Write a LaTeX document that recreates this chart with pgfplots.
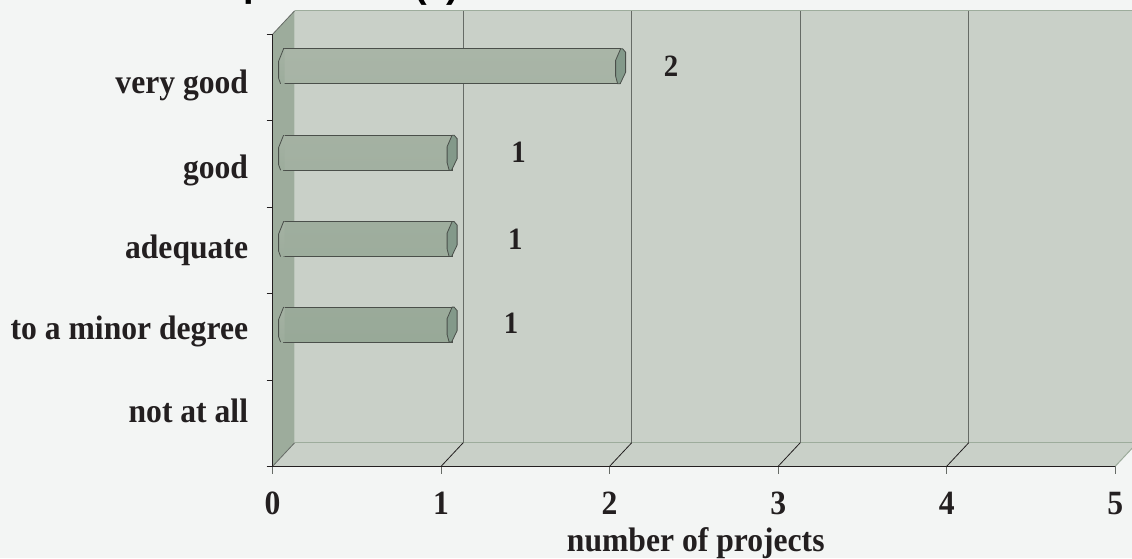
\documentclass[border=0pt]{standalone}
\usepackage{pgfplots}
\usepackage{fontspec}
\pgfplotsset{compat=1.18}
\setmainfont[FakeStretch=0.93]{Liberation Serif}
\setsansfont{Liberation Sans}
\definecolor{bgc}{HTML}{F3F5F4}
\definecolor{wallc}{HTML}{C9D0C8}
\definecolor{sidec}{HTML}{9DAC9C}
\definecolor{txtc}{HTML}{231F20}
\definecolor{gridc}{HTML}{666B66}
\definecolor{bartop}{HTML}{A9B5A7}
\definecolor{barbot}{HTML}{98A998}
\definecolor{capc}{HTML}{83998A}
\definecolor{edgec}{HTML}{4A4F4A}
\pgfdeclareverticalshading{barsh}{100bp}{color(0bp)=(barbot); color(100bp)=(bartop)}
\pgfdeclareplotmark{capR}{%
  \pgfsetfillcolor{capc}\pgfsetstrokecolor{edgec}\pgfsetlinewidth{0.8pt}%
  \pgfpathmoveto{\pgfpoint{6pt}{6pt}}%
  \pgfpathlineto{\pgfpoint{11pt}{17.5pt}}%
  \pgfpathlineto{\pgfpoint{13pt}{17.5pt}}%
  \pgfpathlineto{\pgfpoint{16pt}{14pt}}%
  \pgfpathlineto{\pgfpoint{16pt}{-6pt}}%
  \pgfpathlineto{\pgfpoint{10.5pt}{-17.5pt}}%
  \pgfpathlineto{\pgfpoint{8pt}{-17.5pt}}%
  \pgfpathlineto{\pgfpoint{6pt}{-10pt}}%
  \pgfpathclose
  \pgfusepath{fill,stroke}}
\pgfdeclareplotmark{capL}{%
  \pgfsetstrokecolor{edgec}\pgfsetlinewidth{0.8pt}%
  \pgfpathmoveto{\pgfpoint{11pt}{17.5pt}}%
  \pgfpathlineto{\pgfpoint{6pt}{5pt}}%
  \pgfpathlineto{\pgfpoint{6pt}{-12pt}}%
  \pgfpathlineto{\pgfpoint{8pt}{-17.5pt}}%
  \pgfpathlineto{\pgfpoint{12pt}{-17.5pt}}%
  \pgfpathlineto{\pgfpoint{12pt}{17.5pt}}%
  \pgfpathclose
  \pgfshadepath{barsh}{0}%
  \pgfusepath{discard}%
  \pgfpathmoveto{\pgfpoint{11pt}{17.5pt}}%
  \pgfpathlineto{\pgfpoint{6pt}{5pt}}%
  \pgfpathlineto{\pgfpoint{6pt}{-12pt}}%
  \pgfpathlineto{\pgfpoint{8pt}{-17.5pt}}%
  \pgfusepath{stroke}}
\begin{document}
\begin{tikzpicture}[x=1pt,y=1pt]
\useasboundingbox (0,0) rectangle (1132,558);
\fill[bgc] (0,0) rectangle (1132,558);
\begin{scope}
\clip (0,0) rectangle (1132,558);
\begin{scope}[every node/.style={anchor=base,font=\fontsize{38}{38}\selectfont\sffamily\bfseries,inner sep=0pt,text=black}]
\node at (255,561) {p};
\node at (421,560) {(};
\node at (453,560) {)};
\end{scope}
\begin{axis}[
  at={(272.6pt,91.7pt)}, anchor=south west,
  scale only axis, width=842.6pt, height=432pt,
  xmin=0, xmax=5, ymin=-0.5, ymax=4.5,
  clip=false, axis on top,
  axis x line*=bottom, axis y line*=left,
  axis line style={draw=txtc,line width=0.9pt,-},
  xtick={0,1,2,3,4,5},
  ytick={0.14,1.06,2.005,2.925,3.905},
  yticklabels={not at all,to a minor degree,adequate,good,very good},
  minor ytick={-0.5,0.5,1.5,2.5,3.5,4.5},
  major tick length=0pt,
  minor tick length=6pt,
  every minor tick/.style={draw=txtc,line width=0.6pt},
  tick align=outside,
  /pgf/number format/assume math mode=true,
  xticklabel style={font=\fontsize{34}{34}\selectfont\bfseries,text=txtc,anchor=center,yshift=-37pt},
  yticklabel style={font=\fontsize{34}{34}\selectfont\bfseries,text=txtc,anchor=east,xshift=-21pt},
  xlabel={number of projects},
  xlabel style={font=\fontsize{34}{34}\selectfont\bfseries,text=txtc,at={(axis description cs:0.5022,0)},anchor=center,yshift=-77pt},
]
% walls
\fill[wallc] (axis cs:0.1306,-0.228) rectangle (axis cs:5.2,4.772);
\fill[wallc] (axis cs:0,-0.5) -- (axis cs:0.1306,-0.228) -- (axis cs:5.1306,-0.228) -- (axis cs:5,-0.5) -- cycle;
\fill[sidec] (axis cs:0,-0.5) -- (axis cs:0.1306,-0.228) -- (axis cs:0.1306,4.772) -- (axis cs:0,4.5) -- cycle;
\draw[sidec,line width=1pt] (axis cs:0.1306,-0.228) -- (axis cs:5.2,-0.228);
\draw[sidec,line width=1pt] (axis cs:0.1306,4.772) -- (axis cs:5.2,4.772);
\draw[gridc,line width=0.8pt] (axis cs:0,4.5) -- (axis cs:0.1306,4.772);
\draw[gridc,line width=0.8pt] (axis cs:0,-0.5) -- (axis cs:0.1306,-0.228);
\draw[sidec,line width=1pt] (axis cs:5,-0.5) -- (axis cs:5.1306,-0.228);
\foreach \v in {1,2,3,4}{
  \edef\tmp{\noexpand\draw[gridc,line width=1.2pt] (axis cs:\v+0.1306,-0.228) -- (axis cs:\v+0.1306,4.772);
  \noexpand\draw[txtc,line width=0.8pt] (axis cs:\v,-0.5) -- (axis cs:\v+0.1306,-0.228);}
  \tmp
}
% x ticks
\foreach \v in {0,1,2,3,4,5}{
  \edef\tmp{\noexpand\draw[gridc,line width=0.9pt] (axis cs:\v,-0.5) -- (axis cs:\v,-0.593);}
  \tmp
}
% bars
\addplot[xbar,bar width=35pt,xshift=11pt,draw=edgec,line width=0.8pt,top color=bartop,bottom color=barbot,forget plot]
  coordinates {(2,4.13)(1,3.13)(1,2.13)(1,1.14)};
\addplot[only marks,mark=capL,forget plot] coordinates {(0,4.13)(0,3.13)(0,2.13)(0,1.14)};
\addplot[only marks,mark=capR,forget plot] coordinates {(2,4.13)(1,3.13)(1,2.13)(1,1.14)};
% value labels
\addplot[only marks,mark=none,point meta=explicit symbolic,
  nodes near coords,
  every node near coord/.style={anchor=center,font=\fontsize{31}{31}\selectfont\bfseries,text=txtc}]
  coordinates {(2.365,4.13)[2] (1.46,3.13)[1] (1.44,2.13)[1] (1.415,1.15)[1]};
\end{axis}
\end{scope}
\end{tikzpicture}
\end{document}
